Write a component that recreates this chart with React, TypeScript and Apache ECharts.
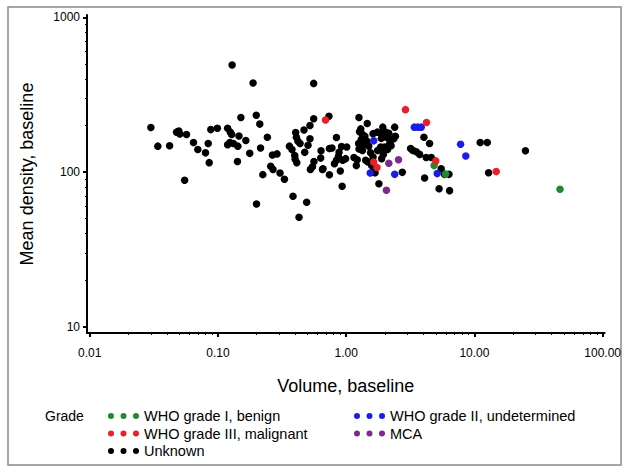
import React, { useEffect, useRef } from 'react';
import * as echarts from 'echarts';

const FONT = '"Liberation Sans", Arial, Helvetica, sans-serif';

// Axis ticks / labels
const xMajorTicks = [0.01, 0.1, 1, 10, 100];
const xMinorTicks = [
  0.02, 0.03, 0.04, 0.05, 0.06, 0.07, 0.08, 0.09,
  0.2, 0.3, 0.4, 0.5, 0.6, 0.7, 0.8, 0.9,
  2, 3, 4, 5, 6, 7, 8, 9,
  20, 30, 40, 50, 60, 70, 80, 90,
];
const yMajorTicks = [10, 100, 1000];
const yMinorTicks = [20, 30, 40, 50, 60, 70, 80, 90, 200, 300, 400, 500, 600, 700, 800, 900];

// Series names
const gradeNames = [
  'WHO grade I, benign',
  'WHO grade II, undetermined',
  'WHO grade III, malignant',
  'MCA',
  'Unknown',
];

// [volume, mean density]
const gradeIPts = [[4.85, 110], [5.96, 97], [46.5, 77.3]];
const gradeIIPts = [
  [1.64, 159], [1.54, 98.5], [2.39, 96.6], [3.4, 195], [3.62, 195], [3.85, 195],
  [5.13, 97.7], [7.8, 151], [8.57, 127],
];
const gradeIIIPts = [
  [0.69, 217], [1.64, 116], [1.74, 107], [2.9, 253], [4.23, 209], [5.0, 118], [14.8, 100.6],
];
const mcaPts = [[2.15, 114], [2.56, 120], [2.06, 76.2]];
const unknownPts = [
  [0.129, 492], [0.151, 225], [0.030, 194], [0.034, 147], [0.042, 148], [0.0476, 181],
  [0.0496, 184], [0.0505, 176], [0.0569, 175], [0.0645, 155], [0.0697, 140], [0.080, 133],
  [0.084, 153], [0.0855, 115], [0.088, 188], [0.099, 192], [0.055, 88.4], [0.119, 192],
  [0.125, 181], [0.128, 175], [0.119, 150], [0.124, 155], [0.132, 153], [0.146, 171],
  [0.143, 147], [0.142, 117], [0.165, 160], [0.177, 132],
  [0.188, 376], [0.558, 374], [0.199, 233], [0.212, 204], [0.243, 168], [0.215, 143],
  [0.266, 129], [0.289, 131], [0.258, 109], [0.269, 104], [0.224, 96.2], [0.305, 98.6],
  [0.330, 89.7], [0.200, 62.1], [0.385, 69.7], [0.492, 63.7], [0.429, 51.0], [0.361, 147],
  [0.378, 140], [0.404, 180], [0.409, 168], [0.421, 158], [0.437, 153], [0.397, 128],
  [0.412, 115], [0.40, 121], [0.469, 187], [0.522, 200], [0.558, 221], [0.522, 164],
  [0.504, 149], [0.475, 134], [0.637, 137], [0.633, 123], [0.561, 117], [0.546, 108],
  [0.526, 104], [0.653, 104],
  [0.734, 229], [1.258, 225], [1.46, 206], [0.84, 167], [1.27, 182], [1.34, 175],
  [1.31, 162], [1.35, 149], [1.34, 138], [1.25, 153], [1.62, 177], [1.75, 181],
  [1.88, 178], [1.88, 165], [1.76, 138], [1.88, 142], [1.62, 125], [1.48, 116],
  [1.62, 100], [1.8, 84], [0.74, 142], [0.775, 143], [0.88, 134], [1.01, 145],
  [0.84, 119], [0.81, 113], [0.94, 119], [0.99, 122], [0.66, 105], [0.74, 96],
  [0.90, 101.5], [1.15, 124], [1.2, 110], [1.22, 120], [0.93, 81], [1.42, 119],
  [0.92, 146], [0.87, 126], [1.26, 141], [1.30, 190], [1.40, 170], [1.45, 158],
  [1.5, 147], [1.55, 133], [1.58, 110], [1.68, 99],
  [1.93, 195], [2.39, 195], [2.03, 181], [2.06, 168], [2.25, 162], [2.18, 153],
  [1.99, 145], [1.86, 145], [1.89, 122], [2.74, 99.5], [4.04, 168], [4.47, 153],
  [3.18, 142], [3.31, 138], [3.52, 135], [3.74, 130], [4.21, 124], [4.61, 124],
  [5.51, 105], [5.85, 96.6], [4.09, 91.4], [5.3, 78],
  [2.15, 178], [2.35, 164], [2.42, 170], [2.24, 148], [2.1, 140], [1.95, 130],
  [11.1, 155], [12.6, 155], [25.0, 137], [12.9, 99], [6.33, 96.6], [6.4, 75.8],
];

const COLORS: Record<string, string> = {
  'WHO grade I, benign': '#1f8a2e',
  'WHO grade II, undetermined': '#1c1ce6',
  'WHO grade III, malignant': '#e8202a',
  MCA: '#7d2a8c',
  Unknown: '#000000',
};

const DOTS_ICON =
  'path://M0,3a3,3 0 1,0 6,0a3,3 0 1,0 -6,0M12.5,3a3,3 0 1,0 6,0a3,3 0 1,0 -6,0M25,3a3,3 0 1,0 6,0a3,3 0 1,0 -6,0';

export default function App() {
  const ref = useRef<HTMLDivElement>(null);

  useEffect(() => {
    if (!ref.current) return;
    const chart = echarts.init(ref.current, null, { renderer: 'svg' });

    const X_MIN = 0.00953;
    const X_MAX = 103.5;
    const Y_MIN = 9.11;
    const Y_MAX = 1035;

    const seriesData: Record<string, number[][]> = {
      'WHO grade I, benign': gradeIPts,
      'WHO grade II, undetermined': gradeIIPts,
      'WHO grade III, malignant': gradeIIIPts,
      MCA: mcaPts,
      Unknown: unknownPts,
    };
    // draw black first so coloured points sit on top
    const drawOrder = ['Unknown', gradeNames[0], gradeNames[1], gradeNames[2], gradeNames[3]];

    const legendLayout: Record<string, { left: number; cy: number }> = {
      'WHO grade I, benign': { left: 108, cy: 416 },
      'WHO grade II, undetermined': { left: 354, cy: 416 },
      'WHO grade III, malignant': { left: 108, cy: 433.5 },
      MCA: { left: 354, cy: 433.5 },
      Unknown: { left: 108, cy: 451 },
    };

    const legends = gradeNames.map((n) => ({
      data: [n],
      left: legendLayout[n].left,
      top: legendLayout[n].cy - 9,
      orient: 'horizontal',
      padding: 0,
      itemGap: 0,
      icon: DOTS_ICON,
      itemWidth: 31,
      itemHeight: 6,
      selectedMode: false,
      textStyle: { fontSize: 14.5, fontFamily: FONT, color: '#000', lineHeight: 18 },
    }));

    chart.setOption({
      animation: false,
      backgroundColor: '#ffffff',
      grid: { left: 87, right: 18.6, top: 15, bottom: 139, containLabel: false },
      xAxis: [
        {
          type: 'log',
          logBase: 10,
          min: X_MIN,
          max: X_MAX,
          position: 'bottom',
          axisLine: { show: true, onZero: false, lineStyle: { color: '#000', width: 2 } },
          axisTick: { show: true, customValues: xMajorTicks, length: 4, lineStyle: { color: '#000', width: 2 } },
          axisLabel: {
            customValues: xMajorTicks,
            formatter: (v: number) => Number(v).toFixed(2),
            color: '#000',
            fontSize: 12,
            fontFamily: FONT,
            margin: 14,
          },
          splitLine: { show: false },
          name: 'Volume, baseline',
          nameLocation: 'middle',
          nameGap: 44,
          nameTextStyle: { fontSize: 18, color: '#000', fontFamily: FONT },
        },
        {
          type: 'log',
          logBase: 10,
          min: X_MIN,
          max: X_MAX,
          position: 'bottom',
          axisLine: { show: false, onZero: false },
          axisTick: { show: true, customValues: xMinorTicks, length: 2, lineStyle: { color: '#000', width: 1 } },
          axisLabel: { show: false },
          splitLine: { show: false },
        },
      ],
      yAxis: [
        {
          type: 'log',
          logBase: 10,
          min: Y_MIN,
          max: Y_MAX,
          position: 'left',
          axisLine: { show: true, onZero: false, lineStyle: { color: '#000', width: 2 } },
          axisTick: { show: true, customValues: yMajorTicks, length: 4, lineStyle: { color: '#000', width: 2 } },
          axisLabel: {
            customValues: yMajorTicks,
            formatter: (v: number) => String(Math.round(v)),
            color: '#000',
            fontSize: 12,
            fontFamily: FONT,
            margin: 7,
          },
          splitLine: { show: false },
          name: 'Mean density, baseline',
          nameLocation: 'middle',
          nameGap: 51,
          nameTextStyle: { fontSize: 18, color: '#000', fontFamily: FONT },
        },
        {
          type: 'log',
          logBase: 10,
          min: Y_MIN,
          max: Y_MAX,
          position: 'left',
          axisLine: { show: false, onZero: false },
          axisTick: { show: true, customValues: yMinorTicks, length: 2, lineStyle: { color: '#000', width: 1 } },
          axisLabel: { show: false },
          splitLine: { show: false },
        },
      ],
      legend: legends,
      graphic: [
        {
          type: 'rect',
          silent: true,
          z: -1,
          shape: { x: 8, y: 7, width: 613, height: 458 },
          style: { fill: 'none', stroke: '#8a8a8a', lineWidth: 1.5 },
        },
        {
          type: 'text',
          x: 45,
          y: 416,
          silent: true,
          style: {
            text: 'Grade',
            fontSize: 14,
            fontFamily: FONT,
            fill: '#000',
            verticalAlign: 'middle',
            align: 'left',
          },
        },
      ],
      series: drawOrder.map((n) => ({
        name: n,
        type: 'scatter',
        xAxisIndex: 0,
        yAxisIndex: 0,
        symbol: 'circle',
        symbolSize: 7.5,
        itemStyle: { color: COLORS[n], opacity: 1 },
        emphasis: { disabled: true },
        data: seriesData[n],
      })),
    });

    return () => chart.dispose();
  }, []);

  return (
    <div
      ref={ref}
      style={{ position: 'absolute', left: 0, top: 0, width: 624, height: 472, background: '#fff' }}
    />
  );
}
